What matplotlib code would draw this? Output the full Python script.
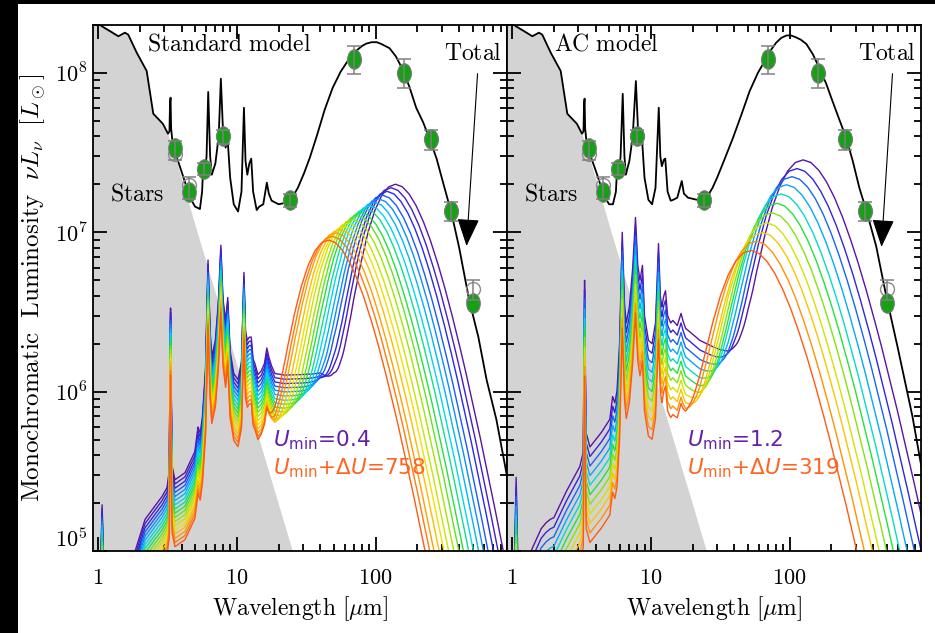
import matplotlib

matplotlib.use("Agg")

import matplotlib.pyplot as plt
import numpy as np
from matplotlib.colors import LinearSegmentedColormap
from matplotlib.patches import Rectangle
from matplotlib.path import Path
from matplotlib.ticker import NullFormatter
from matplotlib.transforms import Affine2D

plt.rcParams["mathtext.fontset"] = "cm"

# stellar emission (grey area), identical in both panels
stars_wl = [0.80, 1.06, 1.25, 1.40, 1.56, 1.65, 1.90, 2.24, 2.50, 2.93, 3.19, 3.46, 5.16, 25.3, 40.0]
stars_lum = [2.4e8, 1.97e8, 1.85e8, 1.70e8, 1.79e8, 1.74e8, 1.34e8, 1.03e8, 5.55e7, 4.8e7, 4.16e7,
             3.4e7, 1.03e7, 1.0e5, 2.5e4]

# best fit total SED
total_std_wl = [0.80, 1.06, 1.40, 1.56, 1.65, 1.90, 2.24, 2.50, 2.93, 3.19, 3.27, 3.30, 3.33, 3.36,
                3.46, 4.0, 4.6, 5.0, 5.42, 5.62, 5.72, 5.85, 6.05, 6.22, 6.42, 6.6, 7.0, 7.4, 7.67,
                7.95, 8.3, 8.6, 8.95, 9.5, 10.2, 10.8, 11.25, 11.55, 11.9, 12.3, 12.7, 13.1, 13.9,
                14.5, 15.5, 16.45, 17.0, 17.8, 20.0, 24.0, 27.5, 30.5, 33.6, 37.6, 43.0, 49.0, 56.0,
                65.0, 72.0, 80.0, 86.0, 93.6, 102.0, 110.0, 126.0, 140.0, 156.0, 175.0, 196.0,
                220.0, 243.0, 275.0, 304.0, 352.0, 400.0, 472.0, 550.0, 630.0, 741.0, 875.0, 1000.0]
total_std_lum = [2.4e8, 1.97e8, 1.70e8, 1.79e8, 1.74e8, 1.34e8, 1.03e8, 5.55e7, 4.8e7, 4.16e7, 4.3e7,
                 6.5e7, 7.0e7, 4.5e7, 3.5e7, 2.4e7, 1.65e7, 1.45e7, 1.4e7, 1.8e7, 2.6e7, 2.2e7, 3.0e7,
                 7.6e7, 3.0e7, 2.3e7, 2.7e7, 4.0e7, 9.2e7, 4.3e7, 3.4e7, 3.76e7, 2.2e7, 1.5e7, 1.35e7,
                 1.8e7, 6.05e7, 2.8e7, 2.3e7, 2.7e7, 2.9e7, 1.8e7, 1.38e7, 1.45e7, 1.5e7, 2.05e7,
                 1.75e7, 1.58e7, 1.5e7, 1.55e7, 1.9e7, 2.35e7, 2.95e7, 4.0e7, 5.9e7, 8.06e7, 1.02e8,
                 1.24e8, 1.37e8, 1.48e8, 1.53e8, 1.56e8, 1.56e8, 1.52e8, 1.43e8, 1.27e8, 1.06e8,
                 8.2e7, 6.05e7, 4.9e7, 3.93e7, 2.9e7, 2.1e7, 1.32e7, 8.0e6, 3.76e6, 2.2e6, 1.19e6,
                 6.7e5, 3.1e5, 1.6e5]
total_ac_wl = [0.80, 1.06, 1.40, 1.56, 1.65, 1.90, 2.24, 2.50, 2.93, 3.19, 3.27, 3.30, 3.33, 3.36,
               3.46, 4.0, 4.6, 5.0, 5.33, 5.6, 5.72, 5.85, 6.05, 6.27, 6.45, 6.6, 7.0, 7.4, 7.8, 8.1,
               8.35, 8.65, 9.0, 9.6, 10.2, 10.8, 11.4, 11.7, 12.0, 12.4, 12.7, 13.2, 13.9, 14.5,
               15.5, 16.7, 17.3, 18.5, 21.5, 24.5, 27.8, 30.0, 33.0, 39.0, 45.0, 51.5, 59.0, 68.0,
               74.0, 80.0, 87.0, 95.0, 102.0, 110.0, 120.0, 132.0, 147.0, 164.0, 183.0, 203.0,
               228.0, 256.0, 285.0, 318.0, 357.0, 420.0, 499.0, 600.0, 767.0, 900.0, 1000.0]
total_ac_lum = [2.4e8, 1.97e8, 1.70e8, 1.79e8, 1.74e8, 1.34e8, 1.03e8, 5.55e7, 4.8e7, 4.16e7, 4.3e7,
                6.4e7, 6.9e7, 4.5e7, 3.5e7, 2.45e7, 1.7e7, 1.5e7, 1.5e7, 1.8e7, 2.6e7, 2.2e7, 3.0e7,
                7.4e7, 3.0e7, 2.3e7, 2.8e7, 4.0e7, 8.9e7, 4.2e7, 3.6e7, 3.76e7, 2.2e7, 1.6e7, 1.5e7,
                1.9e7, 6.05e7, 3.0e7, 2.6e7, 2.85e7, 2.9e7, 1.8e7, 1.58e7, 1.6e7, 1.65e7, 2.1e7,
                1.75e7, 1.65e7, 1.6e7, 1.58e7, 1.9e7, 2.2e7, 2.7e7, 3.9e7, 5.5e7, 7.7e7, 1.0e8,
                1.24e8, 1.41e8, 1.55e8, 1.66e8, 1.72e8, 1.72e8, 1.68e8, 1.62e8, 1.52e8, 1.31e8,
                1.07e8, 8.6e7, 6.7e7, 5.1e7, 3.9e7, 2.8e7, 1.9e7, 1.37e7, 8.2e6, 3.9e6, 1.9e6, 7.0e5,
                3.2e5, 1.8e5]

# photometry: model-convolved (green), observed (open), error bars
phot_wl = [3.6, 4.5, 5.8, 8.0, 24.0, 70.0, 160.0, 250.0, 350.0, 500.0]
phot_model = [3.4e7, 1.8e7, 2.5e7, 4.04e7, 1.6e7, 1.22e8, 1.0e8, 3.87e7, 1.37e7, 3.6e6]
phot_obs = [3.12e7, 1.97e7, 2.5e7, 4.0e7, 1.6e7, 1.2e8, 1.0e8, 3.85e7, 1.37e7, 4.4e6]
phot_lo = [2.86e7, 1.63e7, 2.3e7, 3.6e7, 1.45e7, 9.9e7, 8.06e7, 3.3e7, 1.17e7, 3.76e6]
phot_hi = [3.76e7, 2.21e7, 2.74e7, 4.4e7, 1.75e7, 1.47e8, 1.22e8, 4.4e7, 1.56e7, 5.0e6]

# PAH + hot dust spectrum of the lowest-U component (violet curves)
pah_std_wl = [0.80, 1.03, 1.07, 1.11, 1.50, 1.72, 1.80, 1.85, 2.18, 2.89, 3.14, 3.26, 3.30, 3.33,
              3.36, 3.42, 3.58, 4.23, 4.98, 5.25, 5.45, 5.65, 5.95, 6.2, 6.42, 6.6, 7.0, 7.35, 7.67,
              7.95, 8.3, 8.6, 8.95, 9.5, 10.2, 10.8, 11.25, 11.55, 11.9, 12.3, 12.7, 13.1, 13.5,
              14.2, 15.0, 15.8, 16.45, 17.0, 17.8, 18.8, 22.0, 30.0, 40.0, 50.0, 70.0, 100.0, 200.0,
              1000.0]
pah_std_lum = [3e4, 5e4, 1.95e5, 5e4, 7e4, 9e4, 9.5e4, 1.0e5, 1.58e5, 2.2e5, 2.5e5, 3.2e5, 1.6e6,
               3.35e6, 1.2e6, 3.4e5, 2.8e5, 3.1e5, 4.2e5, 6.0e5, 5.5e5, 7.0e5, 1.4e6, 6.7e6, 2.4e6,
               1.66e6, 2.1e6, 3.6e6, 8.3e6, 3.8e6, 2.8e6, 3.9e6, 1.8e6, 1.3e6, 1.19e6, 1.55e6, 5.6e6,
               2.4e6, 2.1e6, 2.2e6, 2.2e6, 1.6e6, 1.5e6, 1.28e6, 1.35e6, 1.5e6, 1.88e6, 1.65e6,
               1.45e6, 1.3e6, 1.27e6, 1.28e6, 1.3e6, 1.1e6, 6e5, 2.2e5, 1e4, 1e2]
pah_ac_wl = [0.80, 1.03, 1.07, 1.11, 1.37, 1.62, 1.75, 1.88, 2.0, 2.45, 3.08, 3.26, 3.30, 3.33, 3.36,
             3.42, 3.64, 4.37, 5.06, 5.3, 5.5, 5.7, 5.95, 6.22, 6.45, 6.65, 7.0, 7.4, 7.75, 8.05,
             8.35, 8.7, 9.0, 9.6, 10.2, 10.8, 11.35, 11.7, 12.0, 12.4, 12.75, 13.2, 13.9, 14.4,
             15.5, 16.5, 17.0, 17.8, 22.5, 33.0, 40.0, 50.0, 70.0, 100.0, 200.0, 1000.0]
pah_ac_lum = [3e4, 6e4, 2.9e5, 6e4, 1.0e5, 1.38e5, 1.5e5, 1.58e5, 1.62e5, 2.35e5, 3.4e5, 4.2e5,
              2.2e6, 5.0e6, 1.8e6, 5.5e5, 4.5e5, 5.5e5, 6.7e5, 9.3e5, 8.5e5, 1.0e6, 2.0e6, 1.0e7,
              3.6e6, 2.7e6, 3.4e6, 6.0e6, 1.24e7, 6.2e6, 5.0e6, 6.2e6, 3.0e6, 2.1e6, 2.0e6, 2.7e6,
              8.5e6, 4.0e6, 3.4e6, 4.0e6, 4.3e6, 3.0e6, 2.7e6, 2.8e6, 2.6e6, 3.1e6, 2.8e6, 2.5e6,
              2.1e6, 1.78e6, 1.6e6, 1.3e6, 7e5, 2.5e5, 1.2e4, 1e2]

# far-IR bump profile, dex offsets from its peak (wavelength, luminosity)
bump_dwl = [-0.6, -0.55, -0.5, -0.45, -0.4, -0.35, -0.3, -0.25, -0.2, -0.15, -0.1, -0.05, 0.0,
            0.05, 0.1, 0.15, 0.2, 0.25, 0.3, 0.35, 0.4, 0.45, 0.5, 0.6, 0.7, 0.8, 0.9, 1.0, 1.2, 1.4]
bump_dlum = [-4.15, -3.33, -2.62, -2.03, -1.53, -1.12, -0.79, -0.525, -0.322, -0.174, -0.074,
             -0.018, 0.0, -0.016, -0.063, -0.136, -0.232, -0.348, -0.483, -0.632, -0.795, -0.970,
             -1.153, -1.545, -1.964, -2.40, -2.852, -3.315, -4.26, -5.23]

# individual U components, from U_min (violet) to U_min + dU (orange)
std_peak_wl = [139, 129, 121, 112, 105, 98, 91, 85, 79, 74, 69, 64, 60, 56, 52, 49, 46]
std_peak_lum = [2.0e7, 1.9e7, 1.8e7, 1.7e7, 1.61e7, 1.53e7, 1.45e7, 1.38e7, 1.3e7, 1.24e7, 1.17e7,
                1.11e7, 1.05e7, 1.0e7, 9.5e6, 9.0e6, 8.5e6]
std_pah_dex = [0.0, -0.026, -0.053, -0.079, -0.105, -0.131, -0.158, -0.184, -0.21, -0.236, -0.263,
               -0.289, -0.315, -0.341, -0.368, -0.394, -0.42]
ac_peak_wl = [125, 113, 104, 95, 87, 81, 75, 69, 64, 58, 53]
ac_peak_lum = [2.84e7, 2.5e7, 2.22e7, 1.97e7, 1.72e7, 1.5e7, 1.3e7, 1.12e7, 9.7e6, 8.5e6, 7.4e6]
ac_pah_dex = [0.0, -0.06, -0.12, -0.18, -0.24, -0.30, -0.36, -0.42, -0.48, -0.54, -0.60]

rainbow = LinearSegmentedColormap.from_list(
    "sed_rainbow",
    ["#5a14a0", "#2a2ae6", "#0a8cff", "#00d8e8", "#24e040", "#a0e400", "#f4e000", "#ffa000",
     "#ff5a14"],
)
ellipse = Affine2D().scale(0.7, 1.0).transform_path(Path.unit_circle())


def component_curves(pah_wl, pah_lum, peak_wl, peak_lum, pah_dex, width):
    grid = np.unique(np.concatenate([pah_wl, np.geomspace(0.8, 1100, 700)]))
    lg = np.log10(grid)
    pah = np.interp(lg, np.log10(pah_wl), np.log10(pah_lum))
    curves = []
    for pw, pl, shift in zip(peak_wl, peak_lum, pah_dex):
        bump = np.interp((lg - np.log10(pw)) / width, bump_dwl, bump_dlum, left=-9, right=-9)
        curves.append(10 ** (pah + shift) + pl * 10 ** bump)
    return grid, curves


def draw_panel(ax, title, title_x, total_wl, total_lum, grid, curves, umin, umax, tip):
    ax.fill_between(stars_wl, stars_lum, 1e3, color="#d3d3d3", lw=0, zorder=1)
    colors = rainbow(np.linspace(0, 1, len(curves)))
    for curve, color in zip(curves, colors):
        ax.plot(grid, curve, color=color, lw=1.0, zorder=2)
    ax.plot(total_wl, total_lum, color="black", lw=1.3, zorder=3)

    ax.plot(phot_wl, phot_obs, "o", ms=10, mfc="none", mec="#8c8c8c", mew=1.0, zorder=4)
    ax.plot(phot_wl, phot_model, marker=ellipse, ls="none", ms=14, mfc="#16a016",
            mec="#7a7a7a", mew=0.8, zorder=5)
    err = [np.array(phot_obs) - np.array(phot_lo), np.array(phot_hi) - np.array(phot_obs)]
    ax.errorbar(phot_wl, phot_obs, yerr=err, fmt="none", ecolor="#808080", elinewidth=1.1,
                capsize=5, capthick=1.1, zorder=6)

    ax.set_xscale("log")
    ax.set_yscale("log")
    ax.set_xlim(0.92, 885)
    ax.set_ylim(1.0e5, 2.0e8)
    ax.set_xticks([1, 10, 100])
    ax.set_xticklabels([r"$1$", r"$10$", r"$100$"], fontsize=16)
    ax.set_yticks([1e5, 1e6, 1e7, 1e8])
    ax.set_yticklabels([r"$10^5$", r"$10^6$", r"$10^7$", r"$10^8$"], fontsize=16)
    ax.xaxis.set_minor_formatter(NullFormatter())
    ax.yaxis.set_minor_formatter(NullFormatter())
    ax.tick_params(which="both", direction="in", top=True, right=True, width=1.3)
    ax.tick_params(which="major", length=10)
    ax.tick_params(which="minor", length=5)
    ax.tick_params(axis="x", pad=12)
    ax.tick_params(axis="y", pad=4)
    ax.get_yticklabels()[0].set_verticalalignment("bottom")
    for spine in ax.spines.values():
        spine.set_linewidth(1.3)
    ax.set_xlabel(r"$\mathrm{Wavelength}\ [\mu\mathrm{m}]$", fontsize=17, labelpad=5)

    ax.text(title_x, 0.988, title, transform=ax.transAxes, ha="center", va="top", fontsize=17)
    ax.text(0.105, 0.68, r"$\mathrm{Stars}$", transform=ax.transAxes, ha="center", va="center",
            fontsize=17)
    ax.text(0.917, 0.97, r"$\mathrm{Total}$", transform=ax.transAxes, ha="center", va="top",
            fontsize=17)
    ax.annotate("", xy=tip, xytext=(tip[0] * 1.2, 9.9e7),
                arrowprops=dict(arrowstyle="-|>,head_length=1.75,head_width=0.7",
                                mutation_scale=10, color="black", lw=0.8,
                                shrinkA=0, shrinkB=0), zorder=7)
    ax.text(0.435, 0.198, r"$U_{\rm min}$=" + umin, transform=ax.transAxes, color="#6420a8",
            fontsize=15.5, math_fontfamily="dejavusans")
    ax.text(0.435, 0.145, r"$U_{\rm min}$+$\Delta U$=" + umax, transform=ax.transAxes,
            color="#ff6420", fontsize=15.5, math_fontfamily="dejavusans")


fig = plt.figure(figsize=(9.35, 6.33), dpi=100)
ax_std = fig.add_axes([0.0995, 0.1295, 0.4428, 0.8310])
ax_ac = fig.add_axes([0.5423, 0.1295, 0.4428, 0.8310])

grid_std, curves_std = component_curves(pah_std_wl, pah_std_lum, std_peak_wl, std_peak_lum,
                                        std_pah_dex, 1.0)
grid_ac, curves_ac = component_curves(pah_ac_wl, pah_ac_lum, ac_peak_wl, ac_peak_lum,
                                      ac_pah_dex, 1.12)

draw_panel(ax_std, r"$\mathrm{Standard\ model}$", 0.33, total_std_wl, total_std_lum, grid_std,
           curves_std, "0.4", "758", (452, 8.2e6))
draw_panel(ax_ac, r"$\mathrm{AC\ model}$", 0.24, total_ac_wl, total_ac_lum, grid_ac, curves_ac,
           "1.2", "319", (459, 8.1e6))
ax_ac.set_yticklabels([])

ax_std.set_ylabel(r"$\mathrm{Monochromatic\ \ Luminosity}\ \ \nu L_\nu\ \ [L_\odot]$",
                  fontsize=18, labelpad=5)

fig.add_artist(Rectangle((0, 0), 18 / 935, 1, transform=fig.transFigure, color="black", lw=0))
fig.add_artist(Rectangle((0, 1 - 4 / 633), 1, 4 / 633, transform=fig.transFigure,
                         color="black", lw=0))

fig.savefig("out.png", dpi=100)
